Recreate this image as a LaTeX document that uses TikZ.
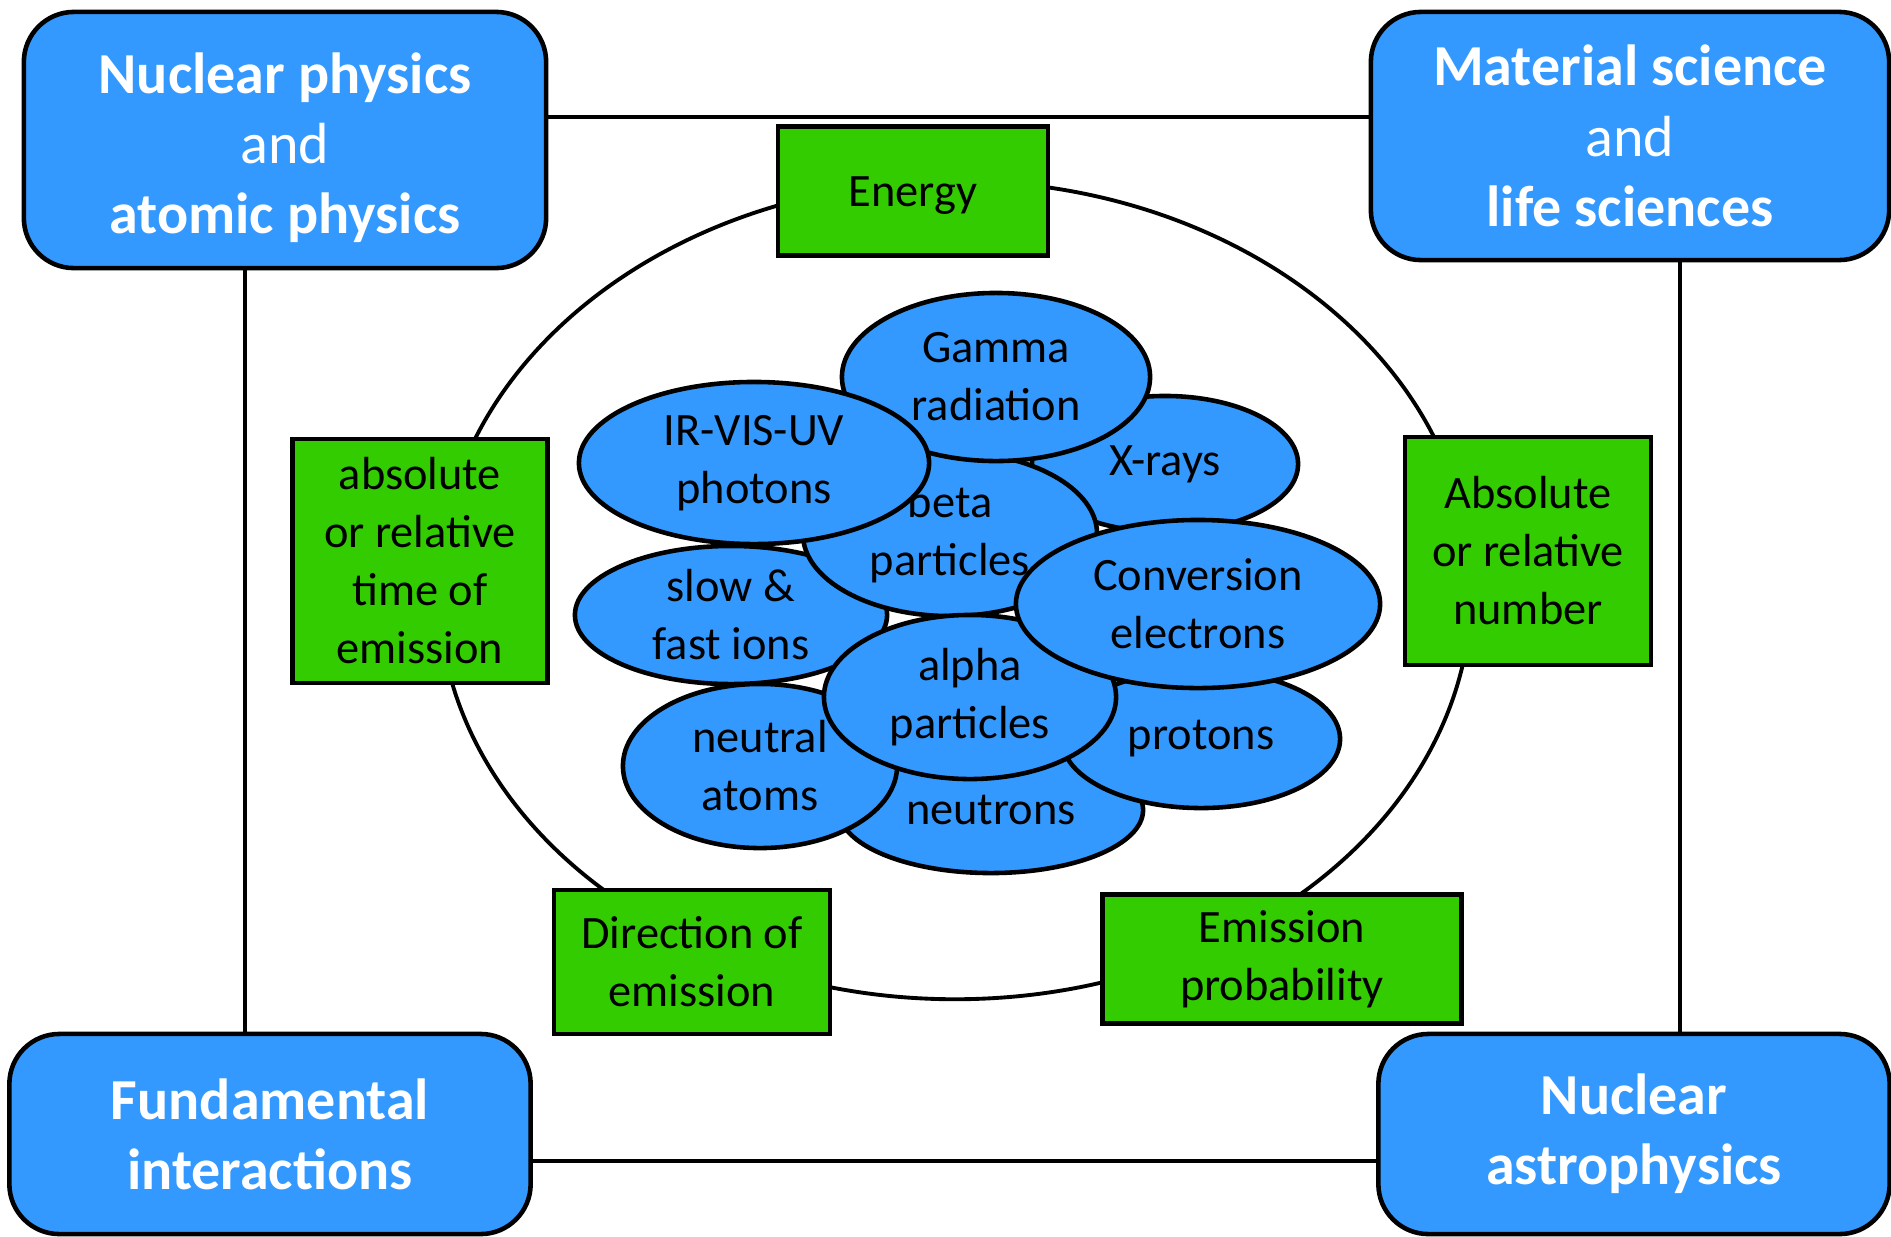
\documentclass[tikz,border=0pt]{standalone}
\usepackage{fontspec}
\setmainfont{Carlito}
\usetikzlibrary{shapes.geometric}
\definecolor{fieldblue}{HTML}{3399FF}
\definecolor{propgreen}{HTML}{33CC00}

\begin{document}
\begin{tikzpicture}[x=0.01cm,y=-0.01cm,line width=1.1pt,
  field/.style={draw,line width=1.3pt,fill=fieldblue,rounded corners=0.5cm,text=white,align=center,inner sep=0pt,font=\fontsize{16.5}{20}\selectfont},
  prop/.style={draw,line width=1.3pt,fill=propgreen,align=center,inner sep=0pt,font=\fontsize{13.2}{16.5}\selectfont},
  kind/.style={ellipse,draw,line width=1.3pt,fill=fieldblue,align=center,inner sep=0pt,font=\fontsize{13.2}{16.5}\selectfont}]
\useasboundingbox (0,0) rectangle (1891,1236);
\node[ellipse,draw,minimum width=10.32cm,minimum height=8.18cm] (ring) at (955,590) {};
\node[field,minimum width=5.22cm,minimum height=2.56cm] (NP) at (285,140) {\rule{0pt}{0.56cm}\textbf{Nuclear physics}\\and\\\textbf{atomic physics}};
\node[field,minimum width=5.18cm,minimum height=2.48cm] (MS) at (1630,136) {\textbf{Material science}\\and\\\textbf{life sciences}};
\node[field,minimum width=5.21cm,minimum height=2cm] (FI) at (270,1134) {\textbf{Fundamental}\\\textbf{interactions}};
\node[field,minimum width=5.11cm,minimum height=2cm] (NA) at (1634,1134) {\textbf{Nuclear}\\\textbf{astrophysics}};
\draw (NP.east |- 0,117) -- (MS.west |- 0,117);
\draw (NP.south -| 245,0) -- (FI.north -| 245,0);
\draw (MS.south -| 1680,0) -- (NA.north -| 1680,0);
\draw (FI.east |- 0,1161) -- (NA.west |- 0,1161);
\node[prop,minimum width=2.7cm,minimum height=1.29cm,text height=0.42cm,text depth=0.12cm] (energy) at (913,191) {Energy};
\node[prop,minimum width=2.55cm,minimum height=2.44cm] (time) at (420,561) {absolute\\or relative\\time of\\emission};
\node[prop,minimum width=2.46cm,minimum height=2.28cm] (number) at (1528,551) {Absolute\\or relative\\number};
\node[prop,minimum width=2.76cm,minimum height=1.44cm] (direction) at (692,962) {Direction of\\emission};
\node[prop,minimum width=3.59cm,minimum height=1.29cm] (prob) at (1282,959) {Emission\\probability};
\node[kind,minimum width=3.04cm,minimum height=1.26cm] (neutrons) at (991,810) {neutrons};
\node[kind,minimum width=2.78cm,minimum height=1.38cm] (protons) at (1201,739) {protons};
\node[kind,minimum width=2.74cm,minimum height=1.64cm] (neutral) at (760,766) {neutral\\atoms};
\node[kind,minimum width=2.66cm,minimum height=1.36cm] (xrays) at (1165,464) {X-rays};
\node[kind,minimum width=3.12cm,minimum height=1.38cm] (ions) at (731,615) {slow \&\\fast ions};
\node[kind,minimum width=2.94cm,minimum height=1.64cm] (beta) at (950,534) {beta\\particles};
\node[kind,minimum width=3.08cm,minimum height=1.68cm] (gamma) at (996,377) {Gamma\\radiation};
\node[kind,minimum width=3.5cm,minimum height=1.62cm] (irvis) at (754,463) {IR-VIS-UV\\photons};
\node[kind,minimum width=2.92cm,minimum height=1.64cm] (alpha) at (970,697) {alpha\\particles};
\node[kind,minimum width=3.64cm,minimum height=1.68cm] (conv) at (1198,604) {Conversion\\electrons};
\end{tikzpicture}
\end{document}
